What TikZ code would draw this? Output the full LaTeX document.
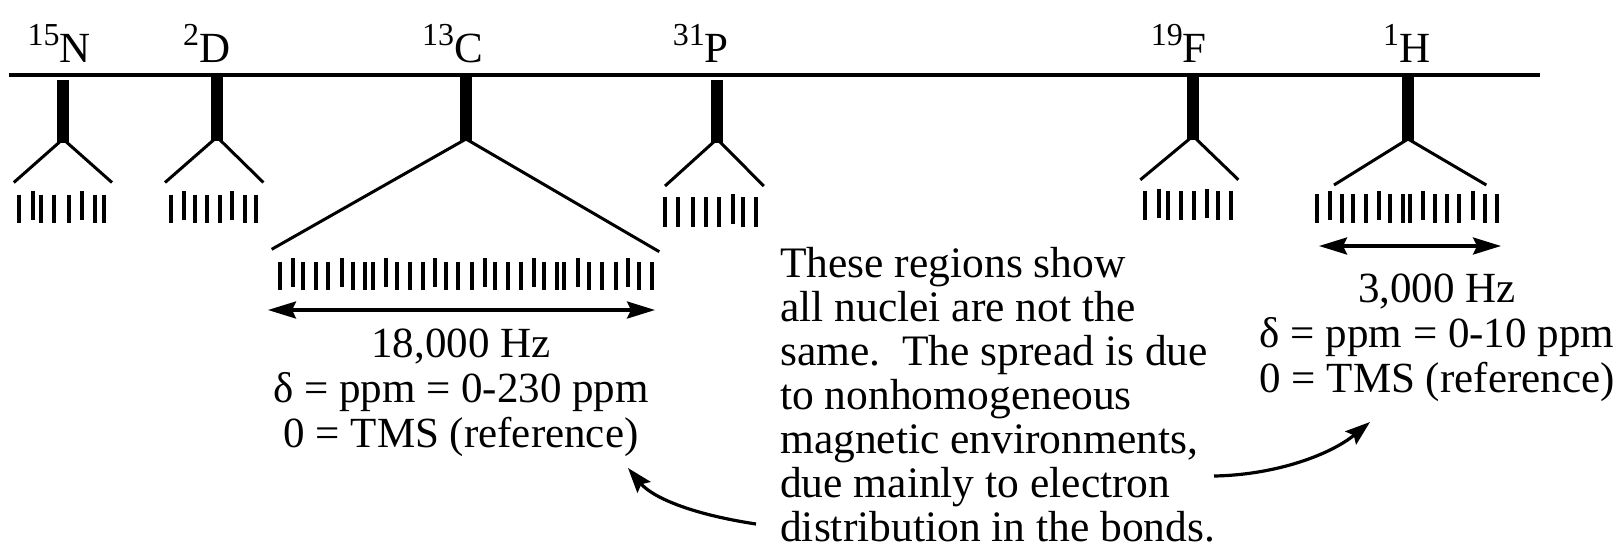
\documentclass[tikz,border=0pt]{standalone}
\usepackage{fontspec}
\setmainfont{Liberation Serif}
\usetikzlibrary{arrows.meta}
\newcommand\iso[2]{{\fontsize{32}{32}\selectfont\raisebox{17pt}{#1}}#2}
\newcommand\tickrow[3]{\foreach \x/\s in {#1} {\draw[tk] (\x,#2-\s) -- (\x,#3-\s);}}
\begin{document}
\begin{tikzpicture}[x=1pt,y=-1pt,
  lbl/.style={inner sep=0pt, anchor=base west, font=\fontsize{43}{45}\selectfont},
  txt/.style={inner sep=0pt, anchor=base, align=center, font=\fontsize{43}{45}\selectfont},
  mtxt/.style={inner sep=0pt, anchor=base west, align=left, font=\fontsize{43.5}{44.1}\selectfont},
  bar/.style={line width=12.5pt},
  arm/.style={line width=3pt, line join=miter},
  tk/.style={line width=4pt},
  dbl/.style={line width=3.3pt, {Stealth[length=28pt,width=17pt,inset=4pt]}-{Stealth[length=28pt,width=17pt,inset=4pt]}},
  cur/.style={line width=3.2pt, -{Stealth[length=25pt,width=17pt,inset=4pt]}}
]
\useasboundingbox (0,0) rectangle (1619,547);
% axis
\coordinate (ax0) at (8.5,75);
\coordinate (ax1) at (1540,75);
\draw[line width=4pt] (ax0) -- (ax1);
% labels
\node[lbl] (lN) at (27.5,62) {\iso{15}{N}};
\node[lbl] (lD) at (183,62) {\iso{2}{D}};
\node[lbl] (lC) at (421.8,62) {\iso{13}{C}};
\node[lbl] (lP) at (672.6,62) {\iso{31}{P}};
\node[lbl] (lF) at (1150.6,62) {\iso{19}{F}};
\node[lbl] (lH) at (1383,62) {\iso{1}{H}};
% bars
\draw[bar] (63,79.5) -- (63,143);
\draw[bar] (217,76) -- (217,140.5);
\draw[bar] (466,76) -- (466,140.5);
\draw[bar] (717,79.5) -- (717,143);
\draw[bar] (1193,76) -- (1193,140);
\draw[bar] (1408,76) -- (1408,140.5);
% arms
\draw[arm] (13.8,182.5) -- (63,139) -- (112,182.5);
\draw[arm] (165,182.5) -- (217,137) -- (263.4,182.5);
\draw[arm] (271.7,249.3) -- (466,139) -- (659.3,251.7);
\draw[arm] (665,186) -- (717,139) -- (763.8,186);
\draw[arm] (1140.3,179.8) -- (1193,136) -- (1238.4,179.8);
\draw[arm] (1334,185) -- (1408,139) -- (1486.3,185);
% ticks
\tickrow{18.9/0,32.7/3.5,41.3/0,54.4/0,68.9/0,81.6/3.5,94.7/0,104.3/0}{194.6}{223}
\tickrow{170.5/0,184.2/3.5,194.6/0,206.6/0,219.7/0,232.4/3.5,244.5/0,255.5/0}{194.6}{223}
\tickrow{280/0,292.7/3.4,302.7/0,316/0,328.3/0,341.7/3.4,352.7/0,365/0,372.7/0,385.7/3.4,396.7/0,410/0,422.7/0,435/3.4,446/0,458.3/0,471.7/0,485/3.4,495/0,508.3/0,521/0,534/3.4,544/0,556.7/0,564/0,578.3/3.4,589.3/0,601.7/0,615.7/0,628.3/3.4,639/0,651.7/0}{261.7}{290}
\tickrow{664.7/0,677.7/0,693.2/0,706.3/0,719.1/0,732.8/3,743.2/0,755.9/0}{197}{227}
\tickrow{1144.7/0,1158.5/2.5,1167.8/0,1180.9/0,1193.6/0,1207.4/2.5,1217.7/0,1230.8/0}{191}{220.4}
\tickrow{1316.9/0,1329.7/3,1341.7/0,1353.1/0,1365.8/0,1378.9/3,1389.9/0,1403/0,1409.9/0,1422.6/3,1434.7/0,1446.7/0,1458.8/0,1472.6/3,1484.6/0,1496.7/0}{194}{223}
% width arrows
\coordinate (c0) at (268,310);
\coordinate (c1) at (655,310);
\draw[dbl] (c0) -- (c1);
\coordinate (h0) at (1319,246);
\coordinate (h1) at (1501,246);
\draw[dbl] (h0) -- (h1);
% text blocks (anchor = baseline of last line)
\node[txt] (tC) at (461,447) {18,000 Hz\\δ = ppm = 0-230 ppm\\0 = TMS (reference)};
\node[txt] (tH) at (1437,392) {3,000 Hz\\δ = ppm = 0-10 ppm\\0 = TMS (reference)};
\node[mtxt] (tM) at (780,541.7) {These regions show\\all nuclei are not the\\same.\ \ The spread is due\\to nonhomogeneous\\magnetic environments,\\due mainly to electron\\distribution in the bonds.};
% curved arrows
\coordinate (la0) at (756,524);
\coordinate (la1) at (628,468);
\draw[cur] (la0) .. controls (690,514) and (652,497) .. (la1);
\coordinate (ra0) at (1214,476);
\coordinate (ra1) at (1370,422);
\draw[cur] (ra0) .. controls (1275,475) and (1330,455) .. (ra1);
\end{tikzpicture}
\end{document}
